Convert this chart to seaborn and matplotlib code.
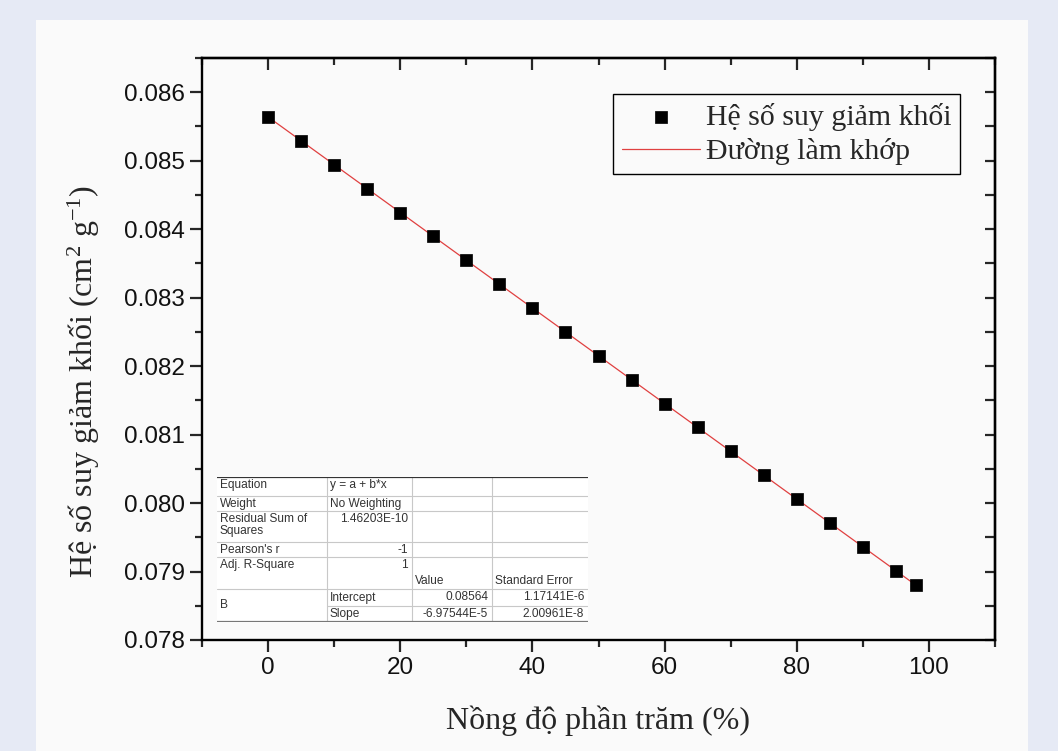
import numpy as np
import pandas as pd
import seaborn as sns
import matplotlib.pyplot as plt
from matplotlib.patches import Rectangle
from matplotlib.ticker import MultipleLocator, FormatStrFormatter

# values
concentration = [0, 5, 10, 15, 20, 25, 30, 35, 40, 45, 50,
                 55, 60, 65, 70, 75, 80, 85, 90, 95, 98]
attenuation = [0.08564, 0.08529, 0.08494, 0.08459, 0.08424, 0.08390, 0.08355,
               0.08320, 0.08285, 0.08250, 0.08215, 0.08180, 0.08145, 0.08111,
               0.08076, 0.08041, 0.08006, 0.07971, 0.07936, 0.07901, 0.07880]
legend_labels = ["Hệ số suy giảm khối", "Đường làm khớp"]
x_label = "Nồng độ phần trăm (%)"
y_label = r"Hệ số suy giảm khối (cm$^{\mathrm{2}}$ g$^{\mathrm{-1}}$)"

# fit report table (Origin style)
fit_names = ["Equation", "Weight", "Residual Sum of\nSquares", "Pearson's r", "Adj. R-Square"]
fit_values = ["y = a + b*x", "No Weighting", "1.46203E-10", "-1", "1"]
param_header = ["Value", "Standard Error"]
param_names = ["Intercept", "Slope"]
param_values = ["0.08564", "-6.97544E-5"]
param_errors = ["1.17141E-6", "2.00961E-8"]

df = pd.DataFrame({"x": concentration, "y": attenuation})
slope, intercept = np.polyfit(df["x"], df["y"], 1)
df["fit"] = intercept + slope * df["x"]

sns.set_style("ticks")
plt.rcParams["font.family"] = ["Liberation Sans", "DejaVu Sans"]
plt.rcParams["mathtext.fontset"] = "custom"
plt.rcParams["mathtext.rm"] = "Liberation Serif"
plt.rcParams["mathtext.it"] = "Liberation Serif:italic"
plt.rcParams["mathtext.bf"] = "Liberation Serif:bold"

W, H = 1058, 751
fig = plt.figure(figsize=(W / 100, H / 100), dpi=100)
fig.patch.set_facecolor("#e6eaf5")
fig.add_artist(Rectangle((36 / W, 0), (1028 - 36) / W, (H - 20) / H,
                         transform=fig.transFigure, facecolor="#fafafa",
                         edgecolor="none", zorder=0))


def px_axes(left, top, right, bottom):
    return [left / W, 1 - bottom / H, (right - left) / W, (bottom - top) / H]


ax = fig.add_axes(px_axes(202, 58, 995, 640))
ax.patch.set_alpha(0)

sns.lineplot(data=df, x="x", y="fit", color="#e04040", linewidth=0.9,
             label=legend_labels[1], ax=ax, zorder=2)
sns.scatterplot(data=df, x="x", y="y", marker="s", s=78, color="black",
                edgecolor="black", linewidth=0.5, label=legend_labels[0],
                ax=ax, zorder=3)

ax.set_xlim(-10, 110)
ax.set_ylim(0.078, 0.0865)
ax.xaxis.set_major_locator(MultipleLocator(20))
ax.xaxis.set_minor_locator(MultipleLocator(10))
ax.yaxis.set_major_locator(MultipleLocator(0.001))
ax.yaxis.set_minor_locator(MultipleLocator(0.0005))
ax.yaxis.set_major_formatter(FormatStrFormatter("%.3f"))

for sp in ax.spines.values():
    sp.set_visible(True)
    sp.set_linewidth(1.7)
    sp.set_color("black")
ax.tick_params(which="major", direction="out", length=8.5, width=1.6,
               labelsize=17.5, pad=4, labelcolor="#111111")
ax.tick_params(which="minor", direction="out", length=5, width=1.6)

# inward ticks on top and right, like Origin
top = ax.secondary_xaxis("top")
top.xaxis.set_major_locator(MultipleLocator(20))
top.xaxis.set_minor_locator(MultipleLocator(10))
top.tick_params(which="major", direction="in", length=8.5, width=1.6, labeltop=False)
top.tick_params(which="minor", direction="in", length=5, width=1.6)
right = ax.secondary_yaxis("right")
right.yaxis.set_major_locator(MultipleLocator(0.001))
right.yaxis.set_minor_locator(MultipleLocator(0.0005))
right.tick_params(which="both", direction="in", length=7.5, width=1.6, labelright=False)
for s in (top, right):
    for sp in s.spines.values():
        sp.set_linewidth(1.7)

ax.set_xlabel(x_label, family="Liberation Serif", fontsize=23)
ax.xaxis.set_label_coords(0.5, -0.112)
ax.set_ylabel(y_label, family="Liberation Serif", fontsize=23)
ax.yaxis.set_label_coords(-0.126, 0.445)

handles, labels = ax.get_legend_handles_labels()
order = [labels.index(l) for l in legend_labels]
leg = ax.legend([handles[i] for i in order], [labels[i] for i in order],
                loc="upper right", bbox_to_anchor=(960 / W, 1 - 94 / H),
                bbox_transform=fig.transFigure, borderaxespad=0,
                prop={"family": "Liberation Serif", "size": 21.5},
                frameon=True, fancybox=False, edgecolor="black",
                facecolor="#fafafa", framealpha=1, handlelength=2.6,
                handletextpad=0.2, borderpad=0.3, labelspacing=0.25,
                markerscale=1.0)
leg.get_frame().set_linewidth(1.0)

# fit table drawn in pixel coordinates
L, R = 217, 588
cols = [217, 327, 412, 492, 588]
rows = [477, 496, 511, 542, 557, 589, 606, 622]
tax = fig.add_axes(px_axes(L, rows[0], R, rows[-1]))
tax.set_xlim(L, R)
tax.set_ylim(rows[-1], rows[0])
tax.axis("off")
tax.add_patch(Rectangle((L, rows[0]), R - L, rows[-1] - rows[0],
                        facecolor="white", edgecolor="none"))
grid = "#c8c8c8"
for y in rows[1:6]:
    tax.plot([L, R], [y, y], color=grid, lw=0.8)
tax.plot([cols[1], R], [rows[6], rows[6]], color=grid, lw=0.8)
for x in cols[1:4]:
    tax.plot([x, x], [rows[0], rows[-1]], color=grid, lw=0.8)
tax.plot([L, R], [rows[0], rows[0]], color="#333333", lw=1.6)
tax.plot([L, R], [rows[-1], rows[-1]], color="#777777", lw=1.6)

fs = 8.6
tc = "#333333"
for i, (name, val) in enumerate(zip(fit_names, fit_values)):
    ytop = rows[i] + 2
    tax.text(cols[0] + 3, ytop, name, fontsize=fs, color=tc, va="top",
             linespacing=1.05)
    if i < 2:
        tax.text(cols[1] + 3, ytop, val, fontsize=fs, color=tc, va="top")
    else:
        tax.text(cols[2] - 4, ytop, val, fontsize=fs, color=tc, va="top", ha="right")
tax.text(cols[2] + 3, rows[5] - 2, param_header[0], fontsize=fs, color=tc, va="bottom")
tax.text(cols[3] + 3, rows[5] - 2, param_header[1], fontsize=fs, color=tc, va="bottom")
tax.text(cols[0] + 3, (rows[5] + rows[7]) / 2, "B", fontsize=fs, color=tc, va="center")
for j in range(2):
    ymid = (rows[5 + j] + rows[6 + j]) / 2
    tax.text(cols[1] + 3, ymid, param_names[j], fontsize=fs, color=tc, va="center")
    tax.text(cols[3] - 4, ymid, param_values[j], fontsize=fs, color=tc, va="center", ha="right")
    tax.text(cols[4] - 4, ymid, param_errors[j], fontsize=fs, color=tc, va="center", ha="right")

fig.savefig("out.png", dpi=100, facecolor=fig.get_facecolor())
